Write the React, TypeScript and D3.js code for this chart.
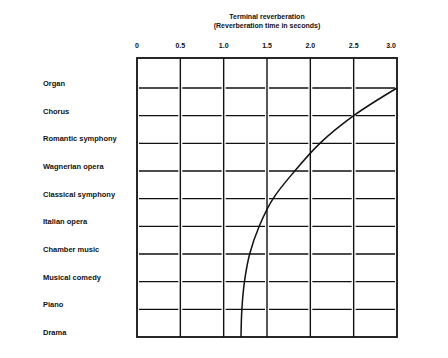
import React from "react";
import * as d3 from "d3";

const categories = [
  "Organ",
  "Chorus",
  "Romantic symphony",
  "Wagnerian opera",
  "Classical symphony",
  "Italian opera",
  "Chamber music",
  "Musical comedy",
  "Piano",
  "Drama",
];
const reverbTimes = [3.0, 2.5, 2.11, 1.82, 1.57, 1.41, 1.3, 1.24, 1.21, 1.2];
const tickValues = [0, 0.5, 1.0, 1.5, 2.0, 2.5, 3.0];
const tickLabels = ["0", "0.5", "1.0", "1.5", "2.0", "2.5", "3.0"];
const titleLines = ["Terminal reverberation", "(Reverberation time in seconds)"];

const W = 448;
const H = 358;
const left = 137;
const right = 397;
const top = 58;
const firstRow = 88;
const bottom = 337;
const font = "'Liberation Sans', Arial, sans-serif";

export default function App() {
  const x = d3.scaleLinear().domain([0, 3]).range([left, right]);
  const y = d3.scalePoint<string>().domain(categories).range([firstRow, bottom]);

  const pts: [number, number][] = categories.map((c, i) => [x(reverbTimes[i]), y(c) as number]);
  const line = d3
    .line<[number, number]>()
    .x((d) => d[0])
    .y((d) => d[1])
    .curve(d3.curveCatmullRom.alpha(0.5));

  const gap = 2;
  const segs: { x1: number; x2: number; y: number; k: string }[] = [];
  categories.slice(0, -1).forEach((c) => {
    for (let i = 0; i < tickValues.length - 1; i++) {
      segs.push({
        x1: x(tickValues[i]) + gap,
        x2: x(tickValues[i + 1]) - gap,
        y: y(c) as number,
        k: c + i,
      });
    }
  });

  return (
    <svg
      width={W}
      height={H}
      style={{ position: "absolute", left: 0, top: 0, background: "#fff" }}
      fontFamily={font}
    >
      <rect x={0} y={0} width={W} height={H} fill="#fff" />
      {titleLines.map((t, i) => (
        <text
          key={t}
          x={267}
          y={19 + i * 9}
          textAnchor="middle"
          fontSize={7}
          fontWeight="bold"
          fill="#111"
        >
          {t}
        </text>
      ))}
      {tickValues.map((v, i) => (
        <text
          key={"t" + v}
          x={x(v) - (i === tickValues.length - 1 ? 6 : 0)}
          y={48}
          textAnchor="middle"
          fontSize={7}
          fontWeight="bold"
          fill="#111"
        >
          {tickLabels[i]}
        </text>
      ))}
      {segs.map((s) => (
        <line key={s.k} x1={s.x1} x2={s.x2} y1={s.y} y2={s.y} stroke="#111" strokeWidth={1.4} />
      ))}
      {tickValues.slice(1, -1).map((v) => (
        <line key={"v" + v} x1={x(v)} x2={x(v)} y1={top} y2={bottom} stroke="#111" strokeWidth={1.4} />
      ))}
      <rect
        x={left}
        y={top}
        width={right - left}
        height={bottom - top}
        fill="none"
        stroke="#111"
        strokeWidth={1.8}
      />
      <path d={line(pts) || ""} fill="none" stroke="#111" strokeWidth={1.5} />
      {categories.map((c) => (
        <text
          key={"l" + c}
          x={43}
          y={(y(c) as number) - 2}
          fontSize={7.5}
          fontWeight="bold"
          fill="#111"
        >
          {c}
        </text>
      ))}
    </svg>
  );
}
